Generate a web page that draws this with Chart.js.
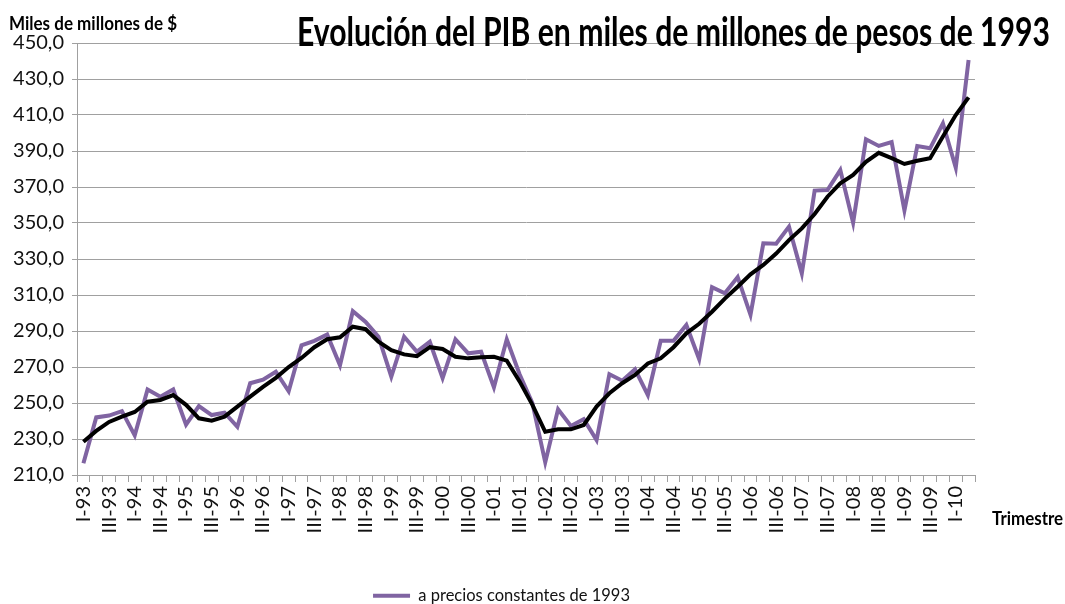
<!DOCTYPE html>
<html>
<head>
<meta charset="utf-8">
<script src="https://cdn.jsdelivr.net/npm/chart.js@4"></script>
<style>
  body { margin: 0; background: #fff; }
  #wrap { width: 1065px; height: 604px; }
</style>
</head>
<body>
<div id="wrap"><canvas id="myChart" width="1065" height="604"></canvas></div>
<script>
const trimestres = [
  'I-93','II-93','III-93','IV-93','I-94','II-94','III-94','IV-94',
  'I-95','II-95','III-95','IV-95','I-96','II-96','III-96','IV-96',
  'I-97','II-97','III-97','IV-97','I-98','II-98','III-98','IV-98',
  'I-99','II-99','III-99','IV-99','I-00','II-00','III-00','IV-00',
  'I-01','II-01','III-01','IV-01','I-02','II-02','III-02','IV-02',
  'I-03','II-03','III-03','IV-03','I-04','II-04','III-04','IV-04',
  'I-05','II-05','III-05','IV-05','I-06','II-06','III-06','IV-06',
  'I-07','II-07','III-07','IV-07','I-08','II-08','III-08','IV-08',
  'I-09','II-09','III-09','IV-09','I-10','II-10'
];

// PIB trimestral a precios constantes de 1993
const pib = [
  216.5, 242, 243, 245.5, 232, 257.5, 253.5, 257.5,
  238, 248.3, 243.3, 244.6, 236.8, 261, 263, 267.4,
  256.5, 282, 284.5, 288, 271, 301, 295, 286.8,
  264.6, 286.8, 278.5, 284, 263.8, 285.4, 277.6, 278.5,
  258.7, 285.4, 266, 250, 217, 246.5, 237.2, 241,
  229.4, 266, 262.4, 268.7, 254.4, 284.6, 284.6, 293.3,
  274.3, 314.3, 311, 320, 299, 338.7, 338.5, 348,
  322, 368, 368.3, 379.4, 350.2, 396.5, 392.8, 395,
  357, 392.8, 391.5, 405.4, 380.7, 440.6
];

// linea negra (tendencia)
const tendencia = [
  228.5, 234.5, 239.5, 242.4, 245, 250.7, 251.7, 254.4,
  249, 241.5, 240.2, 242.4, 248, 253.5, 259, 264,
  270, 275, 281, 285.4, 286.5, 292.4, 291, 284,
  279.4, 277, 276, 281, 280, 275.7, 274.8, 275.4,
  275.7, 273.5, 262, 249, 234, 235.4, 235.4, 237.8,
  248, 255.4, 261, 265.6, 272, 274.8, 281, 288.7,
  294, 300.7, 308, 314.6, 321.5, 326.7, 333, 340.5,
  347, 355, 364.6, 372, 376.7, 384, 389, 386,
  382.8, 384.6, 386, 398, 410, 419.8
];

const yMin = 210, yMax = 450, yPaso = 20;

const titulo = 'Evolución del PIB en miles de millones de pesos de 1993';
const tituloY = 'Miles de millones de $';
const tituloX = 'Trimestre';

function textoAjustado(ctx, txt, x, y, w, font) {
  ctx.font = font;
  const m = ctx.measureText(txt).width;
  ctx.save();
  ctx.translate(x, y);
  ctx.scale(w / m, 1);
  ctx.fillText(txt, 0, 0);
  ctx.restore();
}

const textos = {
  id: 'textos',
  afterLayout(chart) {
    // mover la leyenda hacia abajo y a la derecha
    chart.legend.left += 14;
    chart.legend.right += 14;
    chart.legend.top += 10;
    chart.legend.bottom += 10;
  },
  afterDraw(chart) {
    const ctx = chart.ctx;
    ctx.save();
    ctx.fillStyle = '#000';
    ctx.textBaseline = 'alphabetic';
    textoAjustado(ctx, titulo, 297, 46, 753, 'bold 40px Lato');
    textoAjustado(ctx, tituloY, 9, 30, 168, 'bold 19px Lato');
    textoAjustado(ctx, tituloX, 992, 525, 71, 'bold 19px Lato');
    ctx.restore();
  }
};

let ctx = document.getElementById('myChart').getContext('2d');
let myChart = new Chart(ctx, {
  type: 'line',
  data: {
    labels: trimestres,
    datasets: [
      {
        label: 'a precios constantes de 1993',
        data: pib,
        borderColor: '#8064A2',
        backgroundColor: '#8064A2',
        borderWidth: 4,
        pointRadius: 0,
        tension: 0,
        order: 2
      },
      {
        label: 'tendencia',
        data: tendencia,
        borderColor: '#000',
        backgroundColor: '#000',
        borderWidth: 4,
        pointRadius: 0,
        tension: 0,
        order: 1
      }
    ]
  },
  options: {
    responsive: false,
    animation: false,
    layout: {
      padding: { top: 43, right: 90, left: 0, bottom: 0 }
    },
    scales: {
      x: {
        offset: true,
        grid: {
          drawOnChartArea: false,
          offset: true,
          tickLength: 7,
          color: '#a0a0a0'
        },
        border: { color: '#a0a0a0' },
        ticks: {
          autoSkip: false,
          minRotation: 90,
          maxRotation: 90,
          padding: 4,
          color: '#111',
          font: { family: 'Lato', size: 20 },
          callback: function (v, i) {
            return i % 2 === 0 ? trimestres[i] : '';
          }
        },
        afterFit: function (scale) {
          scale.height = 129 - scale.chart.legend.height;
        }
      },
      y: {
        min: yMin,
        max: yMax,
        grid: {
          color: '#a0a0a0',
          tickLength: 5
        },
        border: { color: '#a0a0a0' },
        ticks: {
          stepSize: yPaso,
          padding: 8,
          color: '#111',
          font: { family: 'Lato', size: 20 },
          callback: function (v) {
            return v.toFixed(1).replace('.', ',');
          }
        },
        afterFit: function (scale) {
          scale.width = 77;
        }
      }
    },
    plugins: {
      legend: {
        position: 'bottom',
        labels: {
          filter: item => item.datasetIndex === 0,
          usePointStyle: true,
          pointStyle: 'line',
          pointStyleWidth: 37,
          color: '#111',
          padding: 6,
          font: { family: 'Lato', size: 16.5 }
        }
      },
      tooltip: { enabled: false }
    }
  },
  plugins: [textos]
});
</script>
</body>
</html>
